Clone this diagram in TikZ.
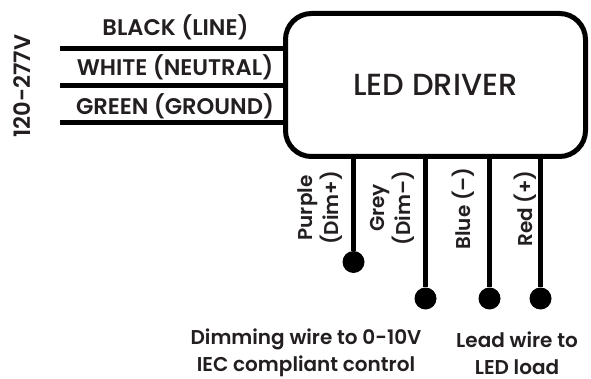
\documentclass[tikz,border=0pt]{standalone}
\usepackage{fontspec}
\setmainfont{Poppins Medium}[BoldFont={Poppins SemiBold}]
\definecolor{inkdark}{HTML}{231F20}
\begin{document}
\begin{tikzpicture}[x=1pt,y=-1pt,
                    driver node/.style={rectangle,draw=black,line width=5pt,rounded corners=26pt,minimum width=300pt,minimum height=143pt,text=inkdark,font=\fontsize{30.5}{34}\selectfont},
                    wire/.style={draw=black,line width=5pt},
                    lead/.style={draw=black,line width=4.6pt},
                    end dot/.style={circle,fill=black,inner sep=0pt,minimum size=22pt},
                    line label/.style={text=inkdark,font=\fontsize{22.6}{26}\selectfont\bfseries,inner sep=0pt},
                    side label/.style={text=inkdark,font=\fontsize{20}{26}\selectfont\bfseries,inner sep=0pt,rotate=90,align=center},
                    foot label/.style={text=inkdark,font=\fontsize{20}{26.5}\selectfont\bfseries,inner sep=0pt,align=center}]
  \useasboundingbox (0,0) rectangle (591,379);

  \node[driver node] (driver) at (435.5,85) {LED DRIVER};

  \coordinate (black) at (60,49);
  \coordinate (white) at (60,85.5);
  \coordinate (green) at (60,122.5);

  \node[end dot] (purple) at (353.5,262) {};
  \node[end dot] (grey) at (425.5,298.5) {};
  \node[end dot] (blue) at (489.5,298.5) {};
  \node[end dot] (red) at (540.5,298.5) {};

  \path[wire]
    (black) edge (black -| driver.west)
    (white) edge (white -| driver.west)
    (green) edge (green -| driver.west);
  \path[lead]
    (purple) edge (purple |- driver.south)
    (grey) edge (grey |- driver.south)
    (blue) edge (blue |- driver.south)
    (red) edge (red |- driver.south);

  \node[line label] (blacktext) at (175.5,27) {BLACK (LINE)};
  \node[line label] (whitetext) at (175,67.5) {WHITE (NEUTRAL)};
  \node[line label] (greentext) at (175,106.5) {GREEN (GROUND)};
  \node[line label,rotate=90] (volts) at (22,86) {120-277V};

  \node[side label] (purpletext) at (320,208) {Purple\\(Dim+)};
  \node[side label] (greytext) at (392.5,208) {Grey\\(Dim–)};
  \node[side label] (bluetext) at (463,208.5) {Blue (–)};
  \node[side label] (redtext) at (525.5,208.5) {Red (+)};

  \node[foot label] (dimtext) at (306,353) {Dimming wire to 0-10V\\IEC compliant control};
  \node[foot label] (loadtext) at (517,353) {Lead wire to\\LED load};
\end{tikzpicture}
\end{document}
